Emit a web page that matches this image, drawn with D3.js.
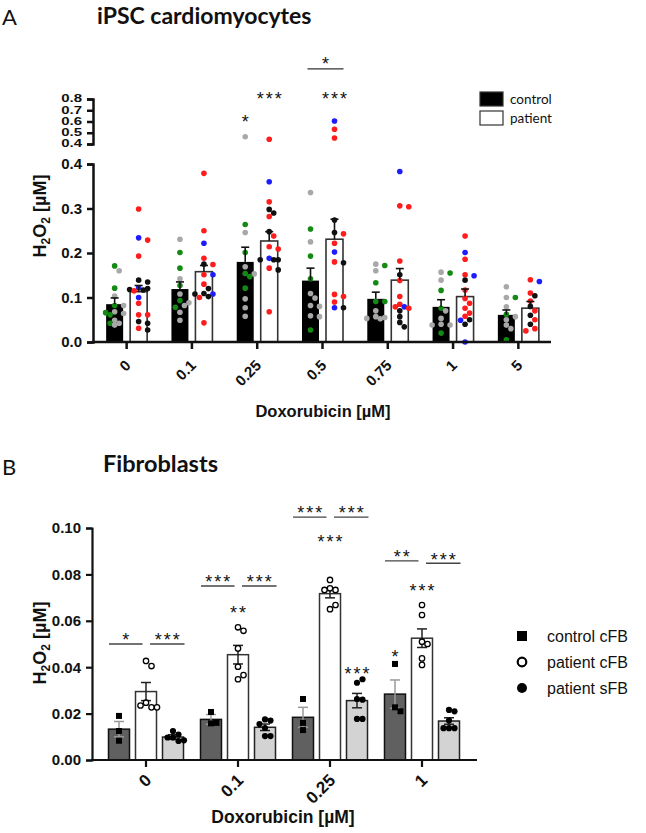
<!DOCTYPE html>
<html><head><meta charset="utf-8">
<script src="https://cdn.jsdelivr.net/npm/d3@7"></script>
<style>body{margin:0;background:#fff}</style>
</head><body>
<svg id="c" width="646" height="833"></svg>
<script>
// ---------- Panel A data ----------
const catsA = ["0","0.1","0.25","0.5","0.75","1","5"];
const ctrlMeanA = [0.085,0.119,0.180,0.138,0.097,0.079,0.061];
const ctrlSemA  = [0.014,0.016,0.033,0.028,0.015,0.016,0.011];
const patMeanA  = [0.113,0.158,0.227,0.231,0.139,0.102,0.076];
const patSemA   = [0.014,0.014,0.021,0.045,0.026,0.017,0.015];
const yTicksLowA = [0,0.1,0.2,0.3,0.4];
const yTicksHighA = [0.4,0.5,0.6,0.7,0.8];
// points: [value, colour code]  g=green y=grey r=red b=blue k=black
const ptsCtrlA = [
 [[0.171,'g'],[0.160,'y'],[0.121,'g'],[0.103,'y'],[0.082,'g'],[0.082,'y'],[0.068,'y'],[0.064,'y'],[0.061,'g'],[0.066,'g'],[0.049,'y'],[0.042,'y'],[0.042,'g'],[0.038,'y']],
 [[0.231,'y'],[0.201,'g'],[0.166,'g'],[0.142,'y'],[0.127,'g'],[0.108,'y'],[0.093,'g'],[0.088,'y'],[0.082,'y'],[0.078,'g'],[0.067,'y'],[0.049,'y']],
 [[0.465,'y'],[0.264,'g'],[0.246,'y'],[0.201,'g'],[0.169,'y'],[0.154,'g'],[0.153,'y'],[0.147,'g'],[0.121,'g'],[0.097,'y'],[0.077,'y'],[0.058,'y']],
 [[0.336,'y'],[0.254,'g'],[0.225,'y'],[0.193,'g'],[0.142,'g'],[0.109,'y'],[0.099,'y'],[0.082,'y'],[0.080,'y'],[0.059,'y'],[0.057,'y'],[0.027,'g']],
 [[0.175,'y'],[0.172,'g'],[0.160,'y'],[0.133,'g'],[0.091,'g'],[0.091,'g'],[0.070,'y'],[0.057,'y'],[0.055,'y'],[0.053,'y'],[0.052,'y']],
 [[0.157,'y'],[0.155,'g'],[0.139,'y'],[0.116,'g'],[0.076,'g'],[0.070,'y'],[0.053,'y'],[0.040,'y'],[0.038,'y'],[0.038,'y'],[0.020,'g']],
 [[0.124,'y'],[0.100,'y'],[0.100,'g'],[0.079,'y'],[0.062,'g'],[0.057,'y'],[0.050,'y'],[0.038,'y'],[0.030,'y'],[0.005,'g']]
];
const ptsPatA = [
 [[0.299,'r'],[0.234,'b'],[0.229,'r'],[0.193,'r'],[0.139,'k'],[0.135,'k'],[0.122,'b'],[0.120,'k'],[0.118,'k'],[0.117,'k'],[0.115,'r'],[0.100,'b'],[0.087,'r'],[0.061,'r'],[0.061,'r'],[0.046,'k'],[0.042,'k'],[0.031,'r'],[0.027,'k']],
 [[0.379,'r'],[0.250,'r'],[0.222,'b'],[0.188,'r'],[0.175,'k'],[0.174,'r'],[0.151,'r'],[0.151,'b'],[0.130,'r'],[0.120,'k'],[0.109,'k'],[0.108,'b'],[0.108,'k'],[0.102,'k'],[0.100,'r'],[0.043,'r']],
 [[0.442,'r'],[0.360,'b'],[0.315,'r'],[0.298,'k'],[0.290,'k'],[0.282,'r'],[0.248,'k'],[0.238,'r'],[0.214,'r'],[0.209,'r'],[0.188,'b'],[0.185,'k'],[0.185,'k'],[0.185,'k'],[0.166,'r'],[0.162,'k'],[0.068,'r']],
 [[0.604,'b'],[0.531,'r'],[0.453,'r'],[0.274,'k'],[0.246,'k'],[0.243,'r'],[0.222,'r'],[0.202,'b'],[0.180,'r'],[0.178,'k'],[0.107,'r'],[0.102,'r'],[0.090,'r'],[0.077,'b'],[0.077,'k']],
 [[0.383,'b'],[0.306,'r'],[0.304,'r'],[0.182,'r'],[0.151,'k'],[0.138,'r'],[0.102,'r'],[0.085,'r'],[0.079,'b'],[0.079,'r'],[0.076,'r'],[0.070,'k'],[0.057,'k'],[0.044,'k'],[0.034,'k']],
 [[0.238,'r'],[0.201,'b'],[0.186,'r'],[0.151,'r'],[0.149,'b'],[0.139,'k'],[0.117,'r'],[0.098,'r'],[0.087,'r'],[0.076,'r'],[0.065,'r'],[0.058,'r'],[0.050,'k'],[0.049,'b'],[0.040,'k'],[0.0,'b']],
 [[0.140,'r'],[0.136,'b'],[0.110,'r'],[0.104,'k'],[0.092,'r'],[0.080,'k'],[0.070,'r'],[0.060,'k'],[0.050,'r'],[0.040,'k'],[0.030,'r'],[0.025,'r']]
];
const starsA = [{cat:2,s:0,v:0.631,t:'*'},{cat:2,s:1,v:0.836,t:'***'},{cat:3,s:1,v:0.836,t:'***'}];
const bracketsA = [{cat:3,v:1.067,t:'*'}];
const legendA = ["control","patient"];

// ---------- Panel B data ----------
const catsB = ["0","0.1","0.25","1"];
const ctrlMeanB = [0.0133,0.0175,0.0184,0.0284];
const ctrlSemB  = [0.0033,0.0021,0.0043,0.0061];
const patcMeanB = [0.0295,0.0454,0.0717,0.0525];
const patcSemB  = [0.0039,0.0040,0.0018,0.0040];
const patsMeanB = [0.0099,0.0141,0.0256,0.0168];
const patsSemB  = [0.0010,0.0014,0.0031,0.0014];
const yTicksB = [0,0.02,0.04,0.06,0.08,0.10];
const ptsCtrlB = [[0.019,0.0125,0.0083],[0.0207,0.0158,0.016],[0.0263,0.0129,0.016],[0.0414,0.0227,0.021]];
const ptsPatcB = [[0.0427,0.0405,0.0247,0.0227,0.0235,0.0227],[0.0572,0.0557,0.0481,0.0402,0.0348,0.0366],[0.0776,0.074,0.0733,0.0733,0.065,0.0668],[0.0668,0.0625,0.051,0.05,0.0438,0.041]];
const ptsPatsB = [[0.0125,0.011,0.0097,0.0097,0.0082,0.0085],[0.0175,0.017,0.0155,0.0138,0.0103,0.0103],[0.0333,0.0348,0.0263,0.0177,0.0177,0.026],[0.0216,0.021,0.017,0.0137,0.0137,0.0137]];
const starsB = [{cat:1,s:1,v:0.065,t:'**'},{cat:2,s:1,v:0.0957,t:'***'},{cat:2,s:2,v:0.039,t:'***'},{cat:3,s:1,v:0.0747,t:'***'},{cat:3,s:0,v:0.0464,t:'*'}];
const bracketsB = [{cat:0,p:0,v:0.050,t:'*'},{cat:0,p:1,v:0.050,t:'***'},{cat:1,p:0,v:0.075,t:'***'},{cat:1,p:1,v:0.075,t:'***'},{cat:2,p:0,v:0.1047,t:'***'},{cat:2,p:1,v:0.1047,t:'***'},{cat:3,p:0,v:0.0858,t:'**'},{cat:3,p:1,v:0.0848,t:'***'}];
const legendB = ["control cFB","patient cFB","patient sFB"];

// ---------- helpers ----------
const svg = d3.select('#c');
const NUM = "'Liberation Sans', Arial, sans-serif";
const CAL = "Lato, 'Open Sans', sans-serif";
const colA = {g:'#138a13', y:'#a8a8a8', r:'#ff1c1c', b:'#1c1cff', k:'#101010'};

function swarm(vals, yFn, r, step, maxOff){
  const placed = [];
  return vals.map(v => {
    const y = yFn(v);
    const cands = [0];
    for (let k=1; k*step<=maxOff+0.01; k++) cands.push(k*step, -k*step);
    let best = 0, bestOv = Infinity;
    for (const c of cands){
      const ov = placed.reduce((m,p)=>Math.max(m, 2*r*0.9 - Math.hypot(p.x-c,p.y-y)), 0);
      if (ov <= 0){ best = c; bestOv = 0; break; }
      if (ov < bestOv){ bestOv = ov; best = c; }
    }
    placed.push({x:best, y});
    return {dx:best, y};
  });
}
function starText(g, x, yc, t){
  const fs = 18;
  g.append('text').attr('x', x + 1).attr('y', yc + 0.57*fs)
    .attr('text-anchor','middle').attr('font-family',NUM).attr('font-size',fs)
    .attr('letter-spacing','2px').attr('fill','#111').text(t);
}
function h2o2Label(x, y){
  const t = svg.append('text').attr('transform',`translate(${x},${y}) rotate(-90)`)
    .attr('text-anchor','middle').attr('font-family',NUM).attr('font-weight','bold')
    .attr('font-size',18).attr('fill','#111');
  t.append('tspan').text('H');
  t.append('tspan').attr('font-size',12).attr('dy',4).text('2');
  t.append('tspan').attr('dy',-4).text('O');
  t.append('tspan').attr('font-size',12).attr('dy',4).text('2');
  t.append('tspan').attr('dy',-4).text(' [µM]');
}

// ================= PANEL A =================
svg.append('text').attr('x',2).attr('y',25).attr('font-family',CAL).attr('font-size',22).attr('fill','#111').text('A');
svg.append('text').attr('x',97).attr('y',24).attr('font-family',CAL).attr('font-weight','bold').attr('font-size',23).attr('fill','#111').text('iPSC cardiomyocytes');

const xA = d3.scaleBand().domain(catsA).range([94,551]);
const yLow = d3.scaleLinear().domain([0,0.4]).range([342,164]);
const yHigh = d3.scaleLinear().domain([0.4,0.8]).range([144,99]);
const yA = v => v <= 0.4 ? yLow(v) : yHigh(v);
const offA = 12, bwA = 17;
const cxA = (i,s) => xA(catsA[i]) + xA.bandwidth()/2 + (s ? offA : -offA);

const gA = svg.append('g');
catsA.forEach((c,i)=>{
  gA.append('rect').attr('x',cxA(i,0)-bwA/2).attr('y',yA(ctrlMeanA[i])).attr('width',bwA)
    .attr('height',yA(0)-yA(ctrlMeanA[i])).attr('fill','#000');
  gA.append('rect').attr('x',cxA(i,1)-bwA/2).attr('y',yA(patMeanA[i])).attr('width',bwA)
    .attr('height',yA(0)-yA(patMeanA[i])).attr('fill','#fff').attr('stroke','#333').attr('stroke-width',1.6);
});
[ptsCtrlA, ptsPatA].forEach((set,s)=>{
  set.forEach((pts,i)=>{
    const pos = swarm(pts.map(p=>p[0]), yA, 2.8, 4.5, 9);
    pts.forEach((p,j)=>{
      gA.append('circle').attr('cx',cxA(i,s)+pos[j].dx).attr('cy',pos[j].y).attr('r',2.8).attr('fill',colA[p[1]]);
    });
  });
});
[[ctrlMeanA,ctrlSemA],[patMeanA,patSemA]].forEach(([m,e],s)=>{
  m.forEach((v,i)=>{
    const x = cxA(i,s);
    gA.append('line').attr('x1',x).attr('x2',x).attr('y1',yA(v)).attr('y2',yA(v+e[i])).attr('stroke','#111').attr('stroke-width',1.6);
    gA.append('line').attr('x1',x-4).attr('x2',x+4).attr('y1',yA(v+e[i])).attr('y2',yA(v+e[i])).attr('stroke','#111').attr('stroke-width',1.6);
  });
});
const axLow = svg.append('g').attr('transform','translate(93,0)')
  .call(d3.axisLeft(yLow).tickValues(yTicksLowA).tickFormat(d3.format('.1f')).tickSize(6).tickPadding(5));
const axHigh = svg.append('g').attr('transform','translate(93,0)')
  .call(d3.axisLeft(yHigh).tickValues(yTicksHighA).tickFormat(d3.format('.1f')).tickSize(6).tickPadding(5));
[axLow, axHigh].forEach(a=>{
  a.selectAll('path,line').attr('stroke','#111').attr('stroke-width',2.5);
  a.selectAll('text').attr('font-family',NUM).attr('font-weight','bold').attr('font-size',15).attr('fill','#111');
});
// squeeze the crowded upper-segment labels vertically so they stack like the original
axHigh.selectAll('.tick text').attr('dy',null).attr('y',0).attr('dominant-baseline','middle')
  .attr('transform','scale(1,0.72)');
axHigh.selectAll('.tick').each(function(){
  const tr = d3.select(this).attr('transform');
  const m = /translate\(([-\d.]+),\s*([-\d.]+)\)/.exec(tr);
  const ty = +m[2];
  d3.select(this).select('text').attr('transform',`translate(0,${ty*0}) scale(1,0.72)`);
});
const axXA = svg.append('g').attr('transform','translate(0,342)')
  .call(d3.axisBottom(xA).tickSize(7).tickSizeOuter(0));
axXA.select('.domain').attr('d','M92,0H551');
axXA.selectAll('path,line').attr('stroke','#111').attr('stroke-width',2.5);
axXA.selectAll('text').attr('font-family',NUM).attr('font-weight','bold').attr('font-size',15).attr('fill','#111')
  .attr('text-anchor','end').attr('x',0).attr('y',0).attr('dy','0.7em')
  .attr('transform','translate(-2.5,17) rotate(-45)');
svg.append('text').attr('x',323).attr('y',417).attr('text-anchor','middle').attr('font-family',NUM)
  .attr('font-weight','bold').attr('font-size',16.5).attr('fill','#111').text('Doxorubicin [µM]');
h2o2Label(46,216);
starsA.forEach(d=> starText(svg, cxA(d.cat,d.s), yA(d.v), d.t));
bracketsA.forEach(d=>{
  const x1 = cxA(d.cat,0)-3, x2 = cxA(d.cat,1)+9, y = yA(d.v);
  svg.append('line').attr('x1',x1).attr('x2',x2).attr('y1',y).attr('y2',y).attr('stroke','#333').attr('stroke-width',1.2);
  starText(svg, (x1+x2)/2, y-9, d.t);
});
legendA.forEach((t,i)=>{
  svg.append('rect').attr('x',480).attr('y',92+i*19).attr('width',23).attr('height',14)
    .attr('fill', i? '#fff':'#000').attr('stroke','#333').attr('stroke-width',1.2);
  svg.append('text').attr('x',510).attr('y',104+i*19).attr('font-family',CAL).attr('font-size',13.5).attr('fill','#111').text(t);
});

// ================= PANEL B =================
svg.append('text').attr('x',2).attr('y',475).attr('font-family',CAL).attr('font-size',22).attr('fill','#111').text('B');
svg.append('text').attr('x',103).attr('y',472).attr('font-family',CAL).attr('font-weight','bold').attr('font-size',23.5).attr('fill','#111').text('Fibroblasts');

const xB = d3.scaleBand().domain(catsB).range([100,468]);
const yB = d3.scaleLinear().domain([0,0.1]).range([760,528]);
const offB = 27, bwB = 21;
const cxB = (i,s) => xB(catsB[i]) + xB.bandwidth()/2 + (s-1)*offB;
const gB = svg.append('g');
const seriesB = [
  {m:ctrlMeanB, e:ctrlSemB, pts:ptsCtrlB, fill:'#606060', stroke:'#111', err:'#9a9a9a'},
  {m:patcMeanB, e:patcSemB, pts:ptsPatcB, fill:'#ffffff', stroke:'#333', err:'#222'},
  {m:patsMeanB, e:patsSemB, pts:ptsPatsB, fill:'#d3d3d3', stroke:'#222', err:'#222'}
];
seriesB.forEach((S,s)=>{
  S.m.forEach((v,i)=>{
    gB.append('rect').attr('x',cxB(i,s)-bwB/2).attr('y',yB(v)).attr('width',bwB).attr('height',yB(0)-yB(v))
      .attr('fill',S.fill).attr('stroke',S.stroke).attr('stroke-width',1.5);
  });
});
seriesB.forEach((S,s)=>{
  S.m.forEach((v,i)=>{
    const x = cxB(i,s), e = S.e[i];
    gB.append('line').attr('x1',x).attr('x2',x).attr('y1',yB(v-e)).attr('y2',yB(v+e)).attr('stroke',S.err).attr('stroke-width',1.5);
    [v-e, v+e].forEach(w=> gB.append('line').attr('x1',x-5).attr('x2',x+5).attr('y1',yB(w)).attr('y2',yB(w)).attr('stroke',S.err).attr('stroke-width',1.5));
  });
});
seriesB.forEach((S,s)=>{
  S.pts.forEach((pts,i)=>{
    const pos = swarm(pts, yB, 3, 5.5, 11);
    pts.forEach((v,j)=>{
      const x = cxB(i,s)+pos[j].dx, y = pos[j].y;
      if (s===0) gB.append('rect').attr('x',x-3).attr('y',y-3).attr('width',6).attr('height',6).attr('fill','#000');
      else if (s===1) gB.append('circle').attr('cx',x).attr('cy',y).attr('r',2.7).attr('fill','#fff').attr('stroke','#000').attr('stroke-width',1.3);
      else gB.append('circle').attr('cx',x).attr('cy',y).attr('r',3.1).attr('fill','#000');
    });
  });
});
const axYB = svg.append('g').attr('transform','translate(92,0)')
  .call(d3.axisLeft(yB).tickValues(yTicksB).tickFormat(d3.format('.2f')).tickSize(6).tickPadding(5));
axYB.selectAll('path,line').attr('stroke','#111').attr('stroke-width',2.2);
axYB.selectAll('text').attr('font-family',NUM).attr('font-weight','bold').attr('font-size',15).attr('fill','#111');
const axXB = svg.append('g').attr('transform','translate(0,760)')
  .call(d3.axisBottom(xB).tickSize(7).tickSizeOuter(0));
axXB.select('.domain').attr('d','M91,0H477');
axXB.selectAll('path,line').attr('stroke','#111').attr('stroke-width',2.2);
axXB.selectAll('text').attr('font-family',NUM).attr('font-weight','bold').attr('font-size',17).attr('fill','#111')
  .attr('text-anchor','end').attr('x',0).attr('y',0).attr('dy','0.7em')
  .attr('transform','translate(-2,13) rotate(-45)');
svg.append('text').attr('x',283).attr('y',823).attr('text-anchor','middle').attr('font-family',NUM)
  .attr('font-weight','bold').attr('font-size',17.5).attr('fill','#111').text('Doxorubicin [µM]');
h2o2Label(46,643);
starsB.forEach(d=> starText(svg, cxB(d.cat,d.s), yB(d.v), d.t));
bracketsB.forEach(d=>{
  const x1 = d.p===0 ? cxB(d.cat,0)-10 : cxB(d.cat,1)+4;
  const x2 = d.p===0 ? cxB(d.cat,1)-3.5 : cxB(d.cat,2)+11.5;
  const y = yB(d.v);
  svg.append('line').attr('x1',x1).attr('x2',x2).attr('y1',y).attr('y2',y).attr('stroke','#444').attr('stroke-width',1.3);
  starText(svg, (x1+x2)/2, y-8, d.t);
});
legendB.forEach((t,i)=>{
  const y = 636 + i*26, x = 522;
  if (i===0) svg.append('rect').attr('x',x-5).attr('y',y-5).attr('width',10).attr('height',10).attr('fill','#000');
  else if (i===1) svg.append('circle').attr('cx',x).attr('cy',y).attr('r',4.3).attr('fill','#fff').attr('stroke','#000').attr('stroke-width',2.2);
  else svg.append('circle').attr('cx',x).attr('cy',y).attr('r',5).attr('fill','#000');
  svg.append('text').attr('x',547).attr('y',y+6).attr('font-family',NUM).attr('font-size',16).attr('fill','#111').text(t);
});
</script></body></html>
